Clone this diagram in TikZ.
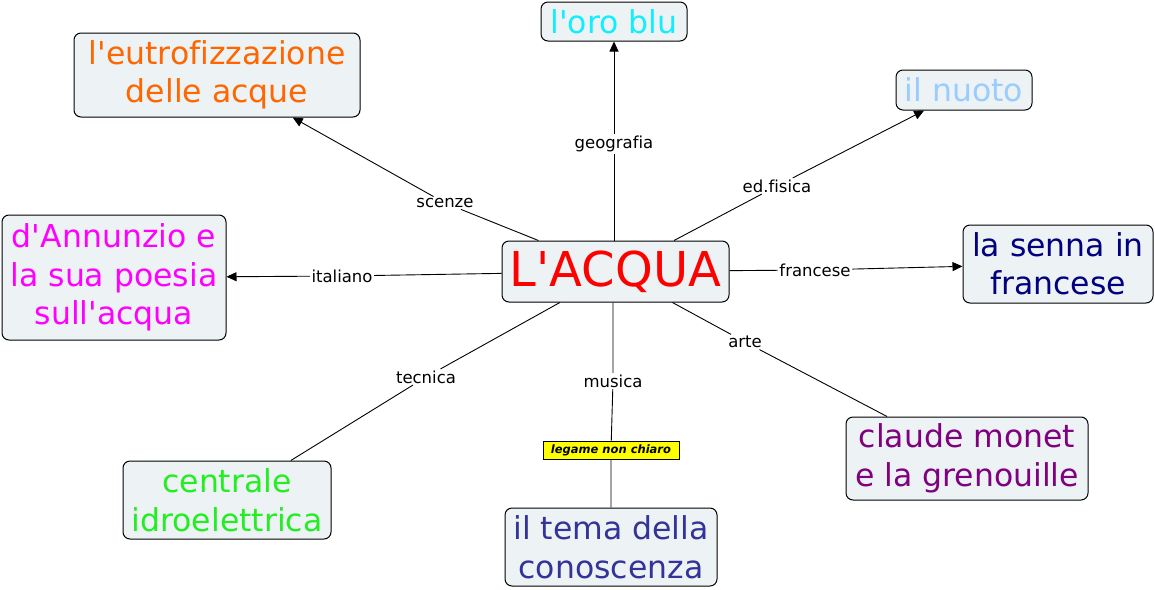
\documentclass[tikz,border=0pt]{standalone}
\usepackage{fontspec}
\setmainfont{DejaVu Sans}[Ligatures={TeXOff,CommonOff}]
\usetikzlibrary{arrows.meta}
\definecolor{boxfill}{HTML}{EDF3F5}
\definecolor{cOrange}{HTML}{FF6600}
\definecolor{cCyan}{HTML}{11EEFF}
\definecolor{cLight}{HTML}{99CCFF}
\definecolor{cMagenta}{HTML}{FF00FF}
\definecolor{cNavy}{HTML}{000080}
\definecolor{cGreen}{HTML}{22EE22}
\definecolor{cTema}{HTML}{333399}
\definecolor{cPurple}{HTML}{800080}
\definecolor{cRed}{HTML}{FF0000}
\definecolor{cYellow}{HTML}{FFFF00}
\tikzset{
  concept/.style={draw=black, line width=1pt, fill=boxfill, rounded corners=7pt,
    inner sep=0pt, align=center, font=\fontsize{31.5}{38.5}\selectfont},
  lbl/.style={fill=white, inner sep=1.5pt, font=\fontsize{16.5}{20}\selectfont},
  warn/.style={draw=black, line width=0.8pt, fill=cYellow, inner sep=0pt,
    minimum width=136pt, minimum height=18pt,
    font=\fontsize{11.5}{13}\selectfont\bfseries\itshape},
  link/.style={line width=0.9pt, draw=black},
  arr/.style={link, -{Triangle[length=10pt,width=9pt]}}
}
\begin{document}
\begin{tikzpicture}[x=1pt,y=-1pt]
\useasboundingbox (0,0) rectangle (1155,589);
% concepts
\node[concept, minimum width=227pt, minimum height=61pt, text=cRed,
  font=\fontsize{48}{56}\selectfont] (main) at (615.5,271.5) {L'ACQUA};
\node[concept, minimum width=146pt, minimum height=39pt, text=cCyan] (oro) at (614,21.5) {l'oro blu};
\node[concept, minimum width=286pt, minimum height=84pt, text=cOrange] (eutro) at (217,75) {l'eutrofizzazione\\delle acque};
\node[concept, minimum width=136pt, minimum height=40pt, text=cLight] (nuoto) at (964,90) {il nuoto};
\node[concept, minimum width=224pt, minimum height=125pt, text=cMagenta] (dann) at (114,277.5) {d'Annunzio e\\la sua poesia\\sull'acqua};
\node[concept, minimum width=190pt, minimum height=78pt, text=cNavy] (senna) at (1058,264) {la senna in\\francese};
\node[concept, minimum width=208pt, minimum height=78pt, text=cGreen] (centr) at (227,500) {centrale\\idroelettrica};
\node[concept, minimum width=212pt, minimum height=78pt, text=cTema] (tema) at (611,547) {il tema della\\conoscenza};
\node[concept, minimum width=242pt, minimum height=83pt, text=cPurple] (monet) at (967,458.5) {claude monet\\e la grenouille};
% link labels
\node[lbl] (lgeo) at (614,144) {geografia};
\node[lbl] (lsci) at (445,203) {scenze};
\node[lbl] (lfis) at (777,186) {ed.fisica};
\node[lbl] (lita) at (342,276) {italiano};
\node[lbl] (lfra) at (815,270) {francese};
\node[lbl] (ltec) at (426,377) {tecnica};
\node[lbl] (lmus) at (613,381) {musica};
\node[lbl] (lart) at (745,342) {arte};
\node[warn] (lwarn) at (611,450) {legame non chiaro};
% connectors
\draw[arr] (main.north -| lgeo) -- (lgeo) -- (oro.south -| lgeo);
\draw[arr] (main) -- (lsci) -- (eutro);
\draw[arr] (main) -- (lfis) -- (nuoto);
\draw[arr] (main) -- (lita) -- (dann);
\draw[arr] (main) -- (lfra) -- (senna);
\draw[link] (main) -- (ltec) -- (centr);
\draw[link] (main.south -| lmus) -- (lmus) -- (lwarn) -- (tema.north -| lwarn);
\draw[link] (main) -- (lart) -- (monet);
\end{tikzpicture}
\end{document}
